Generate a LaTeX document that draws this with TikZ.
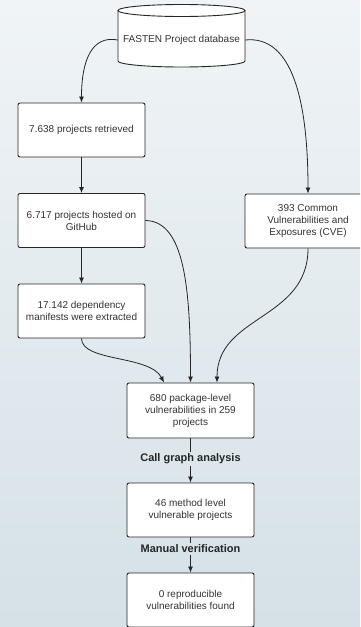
\documentclass[tikz,border=0pt]{standalone}
\usepackage{fontspec}
\setmainfont{Liberation Sans}
\usetikzlibrary{arrows.meta}
\definecolor{bgtop}{HTML}{F0F4F6}
\definecolor{bgbot}{HTML}{D5E1E7}
\definecolor{edge}{HTML}{262626}
\definecolor{txt}{HTML}{333333}
\tikzset{
  box/.style={draw=edge, fill=white, line width=0.9pt, rounded corners=2pt,
    minimum width=127pt, minimum height=54pt, align=center,
    font=\fontsize{10}{12}\selectfont, text=txt, inner sep=0pt},
  lbl/.style={font=\fontsize{11}{13}\selectfont\bfseries, text=edge, inner sep=2pt},
  conn/.style={draw=edge, line width=0.8pt, -{Latex[length=6pt,width=5pt]}},
  plain/.style={draw=edge, line width=0.8pt}
}
\begin{document}
\begin{tikzpicture}[x=1pt,y=-1pt]
\useasboundingbox (0,0) rectangle (360,627);
\clip (0,0) rectangle (360,627);
\shade[top color=bgtop, bottom color=bgbot] (0,0) rectangle (360,627);
% cylinder
\path[fill=white, draw=edge, line width=0.9pt]
  (118,10.5) -- (118,61) .. controls (118,64.3) and (146.4,67) .. (181.5,67)
  .. controls (216.6,67) and (245,64.3) .. (245,61) -- (245,10.5);
\draw[fill=white, draw=edge, line width=0.9pt] (181.5,10.5) ellipse [x radius=63.5, y radius=6];
\node[font=\fontsize{10}{12}\selectfont, text=txt, minimum width=127pt, minimum height=50pt, inner sep=0pt] (db) at (181.5,40) {FASTEN Project database};
% boxes
\node[box] (b1) at (81.5,130) {7.638 projects retrieved};
\node[box] (b2) at (81.5,220.5) {6.717 projects hosted on\\GitHub};
\draw[draw=edge, fill=white, line width=0.9pt, rounded corners=2pt] (245,194) rectangle (380,248);
\node[box, draw=none, fill=none] (cve) at (308,221) {393 Common\\Vulnerabilities and\\Exposures (CVE)};
\node[box] (b3) at (81.5,311) {17.142 dependency\\manifests were extracted};
\node[box, minimum height=55pt] (b4) at (190.5,410.5) {680 package-level\\vulnerabilities in 259\\projects};
\node[box] (b5) at (190.5,510) {46 method level\\vulnerable projects};
\node[box] (b6) at (190.5,600) {0 reproducible\\vulnerabilities found};
\node[lbl] (l1) at (190.5,459) {Call graph analysis};
\node[lbl] (l2) at (190.5,549) {Manual verification};
% connectors
\draw[conn] (db.west) .. controls (92,35) and (81.5,60) .. (b1.north);
\draw[conn] (db.east) .. controls (292,35) and (308,100) .. (cve.north);
\draw[conn] (b1) -- (b2);
\draw[conn] (b2) -- (b3);
\draw[conn] (b2.east) .. controls (185,221) and (190.5,290) .. (b4.north);
\draw[conn] (b3.south) .. controls (81.5,362) and (150,355) .. ([xshift=-26.5pt]b4.north);
\draw[conn] (cve.south) .. controls (308,320) and (217,315) .. ([xshift=26.5pt]b4.north);
\draw[plain] (b4.south) -- (l1.north);
\draw[conn] (l1.south) -- (b5.north);
\draw[plain] (b5.south) -- (l2.north);
\draw[conn] (l2.south) -- (b6.north);
\end{tikzpicture}
\end{document}
